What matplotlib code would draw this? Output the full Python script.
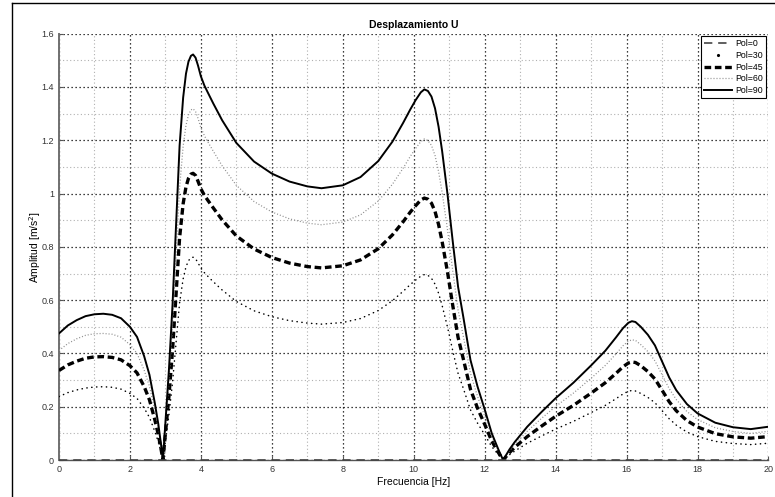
import matplotlib
matplotlib.use("Agg")
import matplotlib.pyplot as plt
from matplotlib.lines import Line2D
from matplotlib.ticker import MultipleLocator

plt.rcParams['font.family'] = ['Liberation Sans', 'DejaVu Sans']

# frecuencias [Hz]
freq = [0, 0.25, 0.5, 0.75, 1.0, 1.25, 1.5, 1.75, 2.0, 2.2,
        2.4, 2.55, 2.7, 2.8, 2.88, 2.93, 3.0, 3.1, 3.2, 3.3,
        3.4, 3.5, 3.58, 3.65, 3.72, 3.78, 3.85, 3.92, 4.0, 4.1,
        4.2, 4.35, 4.6, 5.0, 5.5, 6.0, 6.5, 7.0, 7.4, 8.0,
        8.5, 9.0, 9.4, 9.7, 9.9, 10.05, 10.2, 10.3, 10.4, 10.5,
        10.6, 10.7, 10.8, 10.95, 11.1, 11.25, 11.4, 11.6, 11.8, 12.0,
        12.2, 12.4, 12.52, 12.7, 12.85, 13.2, 13.6, 14.0, 14.5, 15.0,
        15.4, 15.7, 15.9, 16.05, 16.15, 16.25, 16.4, 16.6, 16.8, 17.0,
        17.2, 17.4, 17.7, 18.0, 18.5, 19.0, 19.5, 20.0]

pol0 = [0.0] * len(freq)

pol30 = [0.238, 0.253, 0.263, 0.270, 0.274, 0.275, 0.273, 0.266, 0.250, 0.231,
         0.195, 0.160, 0.108, 0.068, 0.028, 0.0, 0.070, 0.170, 0.290, 0.440,
         0.590, 0.680, 0.725, 0.748, 0.759, 0.761, 0.755, 0.740, 0.720, 0.703,
         0.689, 0.669, 0.638, 0.595, 0.560, 0.538, 0.523, 0.514, 0.510, 0.516,
         0.531, 0.561, 0.598, 0.633, 0.658, 0.675, 0.690, 0.696, 0.693, 0.682,
         0.660, 0.626, 0.580, 0.500, 0.410, 0.325, 0.268, 0.188, 0.138, 0.095,
         0.050, 0.018, 0.0, 0.020, 0.034, 0.063, 0.090, 0.116, 0.145, 0.178,
         0.205, 0.230, 0.248, 0.258, 0.261, 0.259, 0.250, 0.235, 0.215, 0.185,
         0.155, 0.131, 0.105, 0.088, 0.070, 0.062, 0.058, 0.063]

pol45 = [0.336, 0.357, 0.371, 0.382, 0.387, 0.388, 0.385, 0.376, 0.354, 0.327,
         0.276, 0.226, 0.152, 0.095, 0.039, 0.0, 0.099, 0.240, 0.410, 0.622,
         0.834, 0.962, 1.025, 1.057, 1.073, 1.076, 1.068, 1.046, 1.018, 0.993,
         0.974, 0.946, 0.901, 0.841, 0.792, 0.760, 0.739, 0.726, 0.721, 0.729,
         0.751, 0.793, 0.845, 0.894, 0.930, 0.954, 0.976, 0.983, 0.979, 0.964,
         0.933, 0.884, 0.820, 0.707, 0.580, 0.460, 0.378, 0.265, 0.194, 0.134,
         0.071, 0.025, 0.0, 0.028, 0.048, 0.088, 0.127, 0.164, 0.205, 0.251,
         0.290, 0.325, 0.350, 0.364, 0.368, 0.366, 0.354, 0.332, 0.304, 0.262,
         0.219, 0.185, 0.148, 0.124, 0.099, 0.087, 0.082, 0.088]

pol60 = [0.411, 0.437, 0.455, 0.468, 0.474, 0.475, 0.472, 0.461, 0.433, 0.400,
         0.338, 0.277, 0.186, 0.117, 0.048, 0.0, 0.121, 0.294, 0.502, 0.762,
         1.022, 1.178, 1.256, 1.295, 1.314, 1.318, 1.308, 1.282, 1.247, 1.217,
         1.193, 1.159, 1.104, 1.031, 0.970, 0.931, 0.905, 0.889, 0.883, 0.893,
         0.920, 0.972, 1.035, 1.095, 1.139, 1.169, 1.195, 1.205, 1.199, 1.181,
         1.143, 1.083, 1.005, 0.866, 0.710, 0.563, 0.463, 0.325, 0.238, 0.165,
         0.087, 0.030, 0.0, 0.035, 0.059, 0.108, 0.156, 0.201, 0.251, 0.307,
         0.355, 0.398, 0.429, 0.446, 0.451, 0.449, 0.433, 0.407, 0.372, 0.320,
         0.268, 0.227, 0.182, 0.152, 0.121, 0.107, 0.100, 0.108]

pol90 = [0.475, 0.505, 0.525, 0.540, 0.547, 0.549, 0.545, 0.532, 0.500, 0.462,
         0.390, 0.320, 0.215, 0.135, 0.055, 0.0, 0.140, 0.340, 0.580, 0.880,
         1.180, 1.360, 1.450, 1.495, 1.517, 1.522, 1.510, 1.480, 1.440, 1.405,
         1.378, 1.338, 1.275, 1.190, 1.120, 1.075, 1.045, 1.027, 1.020, 1.031,
         1.062, 1.122, 1.195, 1.265, 1.315, 1.350, 1.380, 1.391, 1.385, 1.364,
         1.320, 1.251, 1.160, 1.000, 0.820, 0.650, 0.535, 0.375, 0.275, 0.190,
         0.100, 0.035, 0.0, 0.040, 0.068, 0.125, 0.180, 0.232, 0.290, 0.355,
         0.410, 0.460, 0.495, 0.515, 0.521, 0.518, 0.500, 0.470, 0.430, 0.370,
         0.310, 0.262, 0.210, 0.175, 0.140, 0.123, 0.116, 0.125]

labels = ['Pol=0', 'Pol=30', 'Pol=45', 'Pol=60', 'Pol=90']

fig = plt.figure(figsize=(7.75, 4.97), dpi=100)
ax = fig.add_axes([0.0761, 0.0744, 0.9155, 0.8578])

# marco exterior de la figura
fig.add_artist(Line2D([12 / 775, 12 / 775], [0, 1 - 3 / 497], color='black', lw=1.0))
fig.add_artist(Line2D([12 / 775, 1], [1 - 3 / 497, 1 - 3 / 497], color='black', lw=1.0))

l0, = ax.plot(freq, pol0, color='#444444', lw=1.2, dashes=(5, 3.5), clip_on=False, zorder=4)
l30, = ax.plot(freq, pol30, color='black', lw=1.1, dashes=(0.2, 3.0),
               dash_capstyle='round', solid_capstyle='round', zorder=3)
l45, = ax.plot(freq, pol45, color='black', lw=2.4, dashes=(2.0, 1.1), zorder=3)
l60, = ax.plot(freq, pol60, color='#8c8c8c', lw=0.9, dashes=(0.8, 1.6), zorder=3)
l90, = ax.plot(freq, pol90, color='black', lw=1.4, zorder=3)

ax.set_xlim(0, 20)
ax.set_ylim(0, 1.6)
ax.xaxis.set_major_locator(MultipleLocator(2))
ax.xaxis.set_minor_locator(MultipleLocator(1))
ax.yaxis.set_major_locator(MultipleLocator(0.2))
ax.yaxis.set_minor_locator(MultipleLocator(0.1))
ax.set_yticks([0, 0.2, 0.4, 0.6, 0.8, 1.0, 1.2, 1.4, 1.6])
ax.set_yticklabels(['0', '0.2', '0.4', '0.6', '0.8', '1', '1.2', '1.4', '1.6'])

ax.grid(which='major', color='black', lw=0.9, linestyle=(0, (1, 2.2)))
ax.grid(which='minor', color='#b0b0b0', lw=0.8, linestyle=(0, (1, 2.2)))
ax.set_axisbelow(True)

ax.tick_params(which='both', direction='in', labelsize=6.5, labelcolor='#333333',
               color='#555555', length=3, top=False, right=False)
ax.tick_params(which='minor', length=0)
ax.spines['top'].set_visible(False)
ax.spines['right'].set_visible(False)
ax.spines['left'].set_color('#707070')
ax.spines['left'].set_linewidth(1.4)
ax.spines['bottom'].set_color('#555555')
ax.spines['bottom'].set_linewidth(1.0)

ax.set_title('Desplazamiento U', fontsize=7.5, fontweight='bold', pad=4)
ax.set_xlabel('Frecuencia [Hz]', fontsize=7.5, labelpad=2)
ax.set_ylabel('Amplitud [m/s$^2$]', fontsize=7.5, labelpad=-1)

# en la leyenda Pol=30 solo muestra un punto
p30 = Line2D([], [], color='black', marker='.', markersize=2.5, linestyle='none')
leg = ax.legend([l0, p30, l45, l60, l90], labels, loc='upper right',
                fontsize=6.3, frameon=True, fancybox=False, edgecolor='black',
                framealpha=1, handlelength=3.2, handletextpad=0.3,
                borderpad=0.35, labelspacing=0.3, borderaxespad=0.3)
leg.get_frame().set_linewidth(0.8)

fig.savefig('out.png', dpi=100)
